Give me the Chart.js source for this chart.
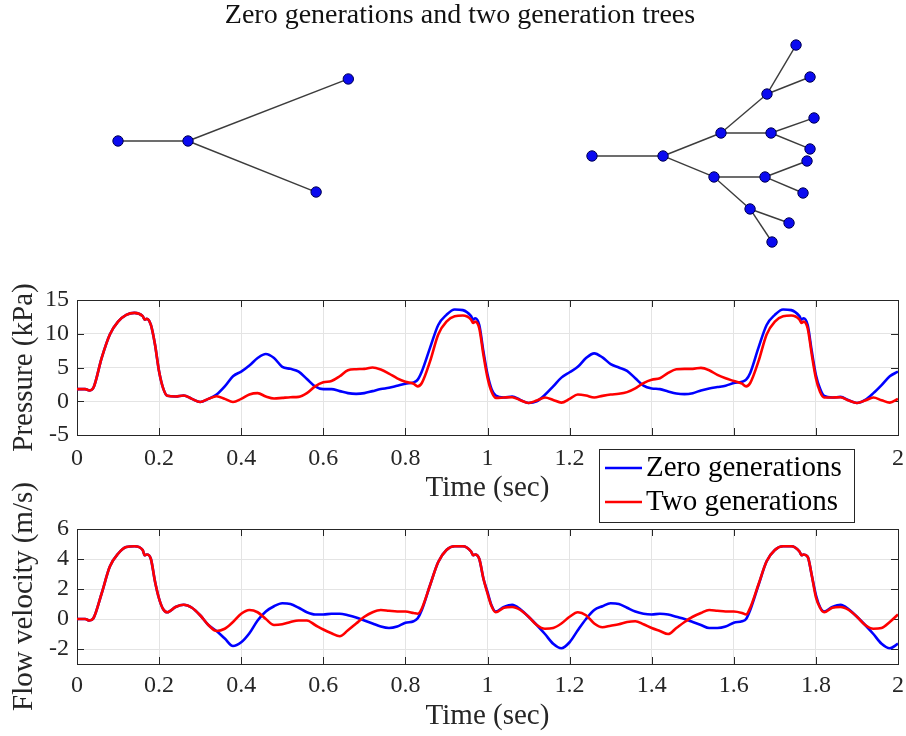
<!DOCTYPE html>
<html><head><meta charset="utf-8">
<script src="https://cdn.jsdelivr.net/npm/chart.js@4.4.1/dist/chart.umd.min.js"></script>
<style>
html,body{margin:0;padding:0;background:#fff;}
#wrap{position:relative;width:906px;height:736px;overflow:hidden;background:#fff;}
canvas{position:absolute;left:0;}
#cTree{top:0;z-index:1}
#cFlow{top:460px;z-index:2}
#cPress{top:260px;z-index:3}
</style></head><body>
<div id="wrap">
<canvas id="cTree" width="906" height="260"></canvas>
<canvas id="cFlow" width="906" height="276"></canvas>
<canvas id="cPress" width="906" height="266"></canvas>
</div>
<script>
// ---------------- DATA ----------------
const chartTitle = 'Zero generations and two generation trees';
const seriesNames = ['Zero generations', 'Two generations'];

// tree node coordinates (arbitrary drawing units) and edges (node index pairs)
const leftTreeX = [0, 1, 3.29, 2.83];
const leftTreeY = [0, 0, 0.886, -0.729];
const leftTreeEdges = [[0,1],[1,2],[1,3]];

const rightTreeX = [6.771, 7.786, 8.614, 8.514, 9.329, 9.271, 9.686, 9.886, 9.943, 9.886, 9.243, 9.843, 9.786, 9.029, 9.586, 9.343];
const rightTreeY = [-0.214, -0.214, 0.114, -0.514, 0.114, 0.671, 1.371, 0.914, 0.329, -0.114, -0.514, -0.286, -0.743, -0.971, -1.171, -1.443];
const rightTreeEdges = [[0,1],[1,2],[1,3],[2,4],[2,5],[5,6],[5,7],[4,8],[4,9],[3,10],[3,13],[10,11],[10,12],[13,14],[13,15]];

// sample times (s)
const timeSec = [
0,0.02,0.03,0.04,0.06,0.08,0.10,0.12,0.14,0.16,0.165,0.17,0.18,0.19,0.20,0.21,
0.22,0.24,0.26,0.28,0.30,0.32,0.34,0.36,0.38,0.40,0.42,0.44,0.46,0.48,0.50,0.52,0.54,0.56,0.58,0.60,0.62,0.64,0.66,0.68,0.70,0.72,0.74,0.76,0.78,0.80,0.82,
0.83,
0.84,0.86,0.88,0.90,0.92,0.94,0.96,
0.965,0.97,0.98,0.99,1.00,1.01,
1.02,1.04,1.06,1.08,1.10,1.12,1.14,1.16,1.18,1.20,1.22,1.24,1.26,1.28,1.30,1.32,1.34,1.36,1.38,1.40,1.42,1.44,1.46,1.48,1.50,1.52,1.54,1.56,1.58,1.60,1.62,
1.63,
1.64,1.66,1.68,1.70,1.72,1.74,1.76,
1.765,1.77,1.78,1.79,1.80,1.81,
1.82,1.84,1.86,1.88,1.90,1.92,1.94,1.96,1.98,2.00];

// pressure (kPa)
const pressureZero = [
1.8,1.8,1.6,2.0,6.4,9.9,11.8,12.8,13.1,12.6,12.1,12.2,11.3,8.4,4.4,1.9,
0.8,0.7,0.85,0.35,-0.1,0.35,1.0,2.2,3.7,4.4,5.3,6.4,7.0,6.4,5.1,4.8,4.4,3.3,2.2,1.8,1.8,1.5,1.2,1.1,1.2,1.5,1.8,2.0,2.3,2.6,2.8,
3.2,
4.4,7.9,11.3,12.8,13.6,13.5,12.6,
12.1,12.3,11.3,7.4,4.0,1.8,
0.85,0.55,0.7,0.2,-0.25,0,0.95,2.2,3.5,4.3,5.1,6.4,7.1,6.5,5.5,5.0,4.5,3.4,2.3,1.9,1.8,1.45,1.15,1.05,1.2,1.6,1.9,2.1,2.3,2.7,2.9,
3.2,
4.2,7.9,11.3,12.8,13.6,13.5,12.6,
12.1,12.3,11.3,7.4,3.9,1.9,
0.8,0.55,0.65,0.15,-0.25,0.2,1.2,2.4,3.7,4.4];

const pressureTwo = [
1.8,1.8,1.6,2.0,6.4,9.9,11.8,12.8,13.1,12.6,12.1,12.2,11.3,8.4,4.4,1.9,
0.8,0.7,0.85,0.35,-0.1,0.35,0.75,0.35,-0.1,0.35,1.0,1.2,0.7,0.4,0.5,0.6,0.65,1.2,2.2,2.8,3.0,3.7,4.6,4.75,4.8,5.0,4.7,4.1,3.4,2.9,2.6,
2.2,
2.7,5.9,9.9,11.8,12.6,12.7,12.1,
11.6,11.8,10.8,6.9,3.5,1.4,
0.5,0.55,0.6,0.15,-0.25,0.1,0.55,0.2,-0.2,0.35,1.0,0.85,0.55,0.8,1.0,1.1,1.35,1.9,2.7,3.2,3.4,4.2,4.75,4.8,4.8,4.95,4.6,3.9,3.4,3.0,2.6,
2.2,
2.7,5.9,9.9,11.8,12.6,12.7,12.1,
11.6,11.8,10.8,6.9,3.4,1.4,
0.55,0.55,0.6,0.1,-0.25,0.1,0.55,0.15,-0.2,0.35];

// flow velocity (m/s)
const flowZero = [
0,0,-0.1,0.05,1.7,3.5,4.35,4.8,4.85,4.6,4.25,4.3,4.0,2.5,1.35,0.65,
0.45,0.8,0.95,0.75,0.25,-0.4,-0.8,-1.3,-1.8,-1.55,-0.95,-0.1,0.5,0.85,1.05,1.0,0.75,0.45,0.3,0.3,0.35,0.35,0.25,0.1,-0.1,-0.3,-0.5,-0.6,-0.5,-0.25,-0.15,
0.05,
0.6,2.25,3.8,4.6,4.85,4.85,4.5,
4.25,4.3,4.0,2.7,1.8,0.9,
0.5,0.8,0.95,0.65,0.15,-0.4,-1.0,-1.65,-1.95,-1.55,-0.75,0,0.6,0.85,1.05,1.0,0.75,0.5,0.35,0.3,0.35,0.3,0.15,0,-0.2,-0.4,-0.6,-0.6,-0.5,-0.25,-0.15,
0,
0.6,2.25,3.85,4.6,4.85,4.85,4.5,
4.25,4.3,4.15,2.9,1.6,0.8,
0.5,0.8,0.95,0.65,0.15,-0.4,-1.0,-1.65,-1.95,-1.65];

const flowTwo = [
0,0,-0.1,0.05,1.7,3.5,4.35,4.8,4.85,4.6,4.25,4.3,4.0,2.5,1.35,0.65,
0.45,0.8,0.95,0.75,0.25,-0.4,-0.8,-0.65,-0.2,0.35,0.6,0.45,0,-0.4,-0.35,-0.2,-0.1,-0.1,-0.4,-0.7,-0.95,-1.15,-0.75,-0.3,0.15,0.45,0.6,0.55,0.5,0.5,0.4,
0.35,
0.7,2.25,3.8,4.6,4.85,4.85,4.5,
4.25,4.3,4.0,2.7,1.7,0.85,
0.45,0.75,0.8,0.6,0.15,-0.4,-0.65,-0.6,-0.3,0.15,0.45,0.25,-0.3,-0.55,-0.45,-0.35,-0.2,-0.15,-0.35,-0.6,-0.8,-1.0,-0.6,-0.2,0.15,0.4,0.6,0.55,0.5,0.5,0.4,
0.3,
0.75,2.3,3.85,4.6,4.85,4.85,4.5,
4.25,4.3,4.15,2.9,1.45,0.75,
0.45,0.75,0.8,0.6,0.15,-0.4,-0.65,-0.6,-0.2,0.3];

// axes
const timeTicks = [0,0.2,0.4,0.6,0.8,1,1.2,1.4,1.6,1.8,2];
const timeTickLabels = ['0','0.2','0.4','0.6','0.8','1','1.2','1.4','1.6','1.8','2'];
const pressureTicks = [-5,0,5,10,15];
const pressureTickLabels = ['-5','0','5','10','15'];
const flowTicks = [-2,0,2,4,6];
const flowTickLabels = ['-2','0','2','4','6'];
const timeLabel = 'Time (sec)';
const pressureLabel = 'Pressure (kPa)';
const flowLabel = 'Flow velocity (m/s)';

// ---------------- STYLE ----------------
const FONT = "'Liberation Serif','Times New Roman',serif";
const INK = '#262626';
const GRID = '#e4e4e4';
const BLUE = '#0000ff';
const RED = '#ff0000';

// ---------------- TREE CHART ----------------
function treeDatasets(xs, ys, edges) {
  const out = [];
  edges.forEach(([a,b]) => {
    out.push({
      data: [{x: xs[a], y: ys[a]}, {x: xs[b], y: ys[b]}],
      showLine: true, borderColor: '#3c3c3c', borderWidth: 1.4,
      pointRadius: 0, order: 2, clip: false
    });
  });
  out.push({
    data: xs.map((x,i) => ({x, y: ys[i]})),
    showLine: false, pointRadius: 5.2, pointBackgroundColor: '#0a0af0',
    pointBorderColor: '#000050', pointBorderWidth: 1, order: 0, clip: false
  });
  return out;
}

new Chart(document.getElementById('cTree'), {
  type: 'scatter',
  data: {datasets: [...treeDatasets(leftTreeX, leftTreeY, leftTreeEdges),
                    ...treeDatasets(rightTreeX, rightTreeY, rightTreeEdges)]},
  options: {
    responsive: false, animation: false, events: [],
    layout: {autoPadding: false, padding: {left: 14, right: 0, top: 0, bottom: 0}},
    plugins: {
      legend: {display: false}, tooltip: {enabled: false},
      title: {display: true, text: chartTitle, color: '#111',
              font: {family: FONT, size: 28, weight: 'normal', lineHeight: 1.1}, padding: {top: 0, bottom: 4}}
    },
    scales: {
      x: {type: 'linear', display: false, min: -1.486, max: 11.257},
      y: {type: 'linear', display: false, min: -1.7, max: 1.517}
    }
  }
});

// ---------------- TIME SERIES CHARTS ----------------
const boxPlugin = {
  id: 'boxTicks',
  beforeDatasetsDraw(chart) {
    const {ctx, chartArea: a, scales: {x, y}} = chart;
    const L = 7;
    ctx.save();
    ctx.strokeStyle = INK; ctx.lineWidth = 1;
    ctx.beginPath();
    x.ticks.forEach(t => {
      const px = Math.round(x.getPixelForValue(t.value)) + 0.5;
      ctx.moveTo(px, a.bottom); ctx.lineTo(px, a.bottom - L);
      ctx.moveTo(px, a.top); ctx.lineTo(px, a.top + L);
    });
    y.ticks.forEach(t => {
      const py = Math.round(y.getPixelForValue(t.value)) + 0.5;
      ctx.moveTo(a.left, py); ctx.lineTo(a.left + L, py);
      ctx.moveTo(a.right, py); ctx.lineTo(a.right - L, py);
    });
    ctx.stroke();
    ctx.strokeRect(Math.round(a.left) + 0.5, Math.round(a.top) + 0.5,
                   Math.round(a.right) - Math.round(a.left), Math.round(a.bottom) - Math.round(a.top));
    ctx.restore();
  }
};

const legendPlugin = {
  id: 'floatLegend',
  afterDraw(chart, args, o) {
    if (!o || !o.show) return;
    const {ctx} = chart;
    ctx.save();
    ctx.fillStyle = '#fff';
    ctx.fillRect(o.x, o.y, o.w, o.h);
    ctx.strokeStyle = INK; ctx.lineWidth = 1;
    ctx.strokeRect(o.x + 0.5, o.y + 0.5, o.w, o.h);
    ctx.font = o.fontSize + 'px ' + FONT;
    ctx.textBaseline = 'middle';
    ctx.textAlign = 'left';
    chart.data.datasets.forEach((ds, i) => {
      const ry = o.y + o.row0 + i * o.rowGap;
      ctx.strokeStyle = ds.borderColor; ctx.lineWidth = 2.5;
      ctx.beginPath(); ctx.moveTo(o.x + 6, ry); ctx.lineTo(o.x + 43, ry); ctx.stroke();
      ctx.fillStyle = '#000';
      ctx.fillText(ds.label, o.x + 47, ry);
    });
    ctx.restore();
  }
};

function seriesChart(id, zero, two, yTicks, yTickLabels, yMin, yMax, yLabel, layout, legend) {
  const pts = arr => timeSec.map((t, i) => ({x: t, y: arr[i]}));
  return new Chart(document.getElementById(id), {
    type: 'line',
    data: {datasets: [
      {label: seriesNames[0], data: pts(zero), borderColor: BLUE, borderWidth: 2.6, pointRadius: 0,
       cubicInterpolationMode: 'monotone', order: 1},
      {label: seriesNames[1], data: pts(two), borderColor: RED, borderWidth: 2.6, pointRadius: 0,
       cubicInterpolationMode: 'monotone', order: 0}
    ]},
    plugins: [boxPlugin, legendPlugin],
    options: {
      responsive: false, animation: false, events: [],
      layout: {autoPadding: false, padding: {left: 0, right: 8, top: layout.top, bottom: 0}},
      plugins: {legend: {display: false}, tooltip: {enabled: false}, floatLegend: legend},
      scales: {
        x: {
          type: 'linear', min: 0, max: 2,
          afterBuildTicks: s => { s.ticks = timeTicks.map(v => ({value: v})); },
          afterFit: s => { s.height = layout.xHeight; s.paddingLeft = 0; s.paddingRight = 0; },
          grid: {color: GRID, lineWidth: 1, drawTicks: false},
          border: {display: false},
          ticks: {autoSkip: false, maxRotation: 0, padding: layout.xPad, color: INK,
                  font: {family: FONT, size: 24}, callback: (v, i) => timeTickLabels[i]},
          title: {display: true, text: timeLabel, color: INK, font: {family: FONT, size: 29},
                  padding: {top: 0, bottom: layout.xTitlePad}}
        },
        y: {
          type: 'linear', min: yMin, max: yMax,
          afterBuildTicks: s => { s.ticks = yTicks.map(v => ({value: v})); },
          afterFit: s => { s.width = 77; s.paddingTop = 0; s.paddingBottom = 0; },
          grid: {color: GRID, lineWidth: 1, drawTicks: false},
          border: {display: false},
          ticks: {autoSkip: false, padding: 8, color: INK,
                  font: {family: FONT, size: 24}, callback: (v, i) => yTickLabels[i]},
          title: {display: true, text: yLabel, color: INK, font: {family: FONT, size: 29},
                  padding: {top: 7, bottom: 0}}
        }
      }
    }
  });
}

seriesChart('cPress', pressureZero, pressureTwo, pressureTicks, pressureTickLabels, -5, 15, pressureLabel,
  {top: 40, xHeight: 91, xPad: 9, xTitlePad: 20},
  {show: true, x: 599, y: 189, w: 255, h: 73, row0: 19, rowGap: 34, fontSize: 29});

seriesChart('cFlow', flowZero, flowTwo, flowTicks, flowTickLabels, -3, 6, flowLabel,
  {top: 69, xHeight: 72, xPad: 7, xTitlePad: 2},
  {show: false});
</script>
</body></html>
